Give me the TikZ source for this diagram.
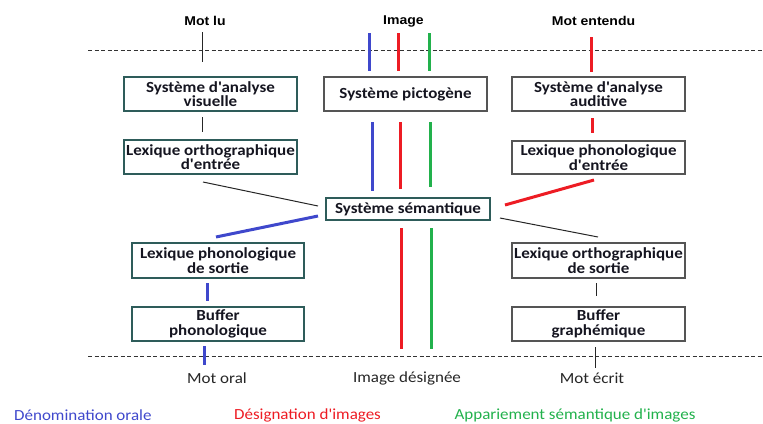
\documentclass[tikz,border=0pt]{standalone}
\usepackage{fontspec}
\setmainfont{Carlito}[FakeStretch=1.1, Ligatures=TeXOff]
\newfontfamily\toplab{Liberation Sans}[FakeStretch=1.1]
\definecolor{cblue}{HTML}{3F48CC}
\definecolor{cred}{HTML}{ED1C24}
\definecolor{cgreen}{HTML}{22B14C}
\definecolor{cteal}{HTML}{2E5C5A}
\definecolor{cgray}{HTML}{555555}
\definecolor{ctext}{HTML}{151520}
\tikzset{
  boxbase/.style={draw, line width=1.8bp, inner sep=0pt, align=center, text=ctext,
    font=\fontsize{15.5}{14.5}\selectfont\bfseries},
  tealbox/.style={boxbase, draw=cteal},
  graybox/.style={boxbase, draw=cgray},
  dashline/.style={draw=black!80, line width=1bp, dash pattern=on 4bp off 2.5bp},
  thinline/.style={draw=black!85, line width=1bp},
  blueline/.style={draw=cblue, line width=3bp},
  redline/.style={draw=cred, line width=3bp},
  greenline/.style={draw=cgreen, line width=3bp},
  toplabel/.style={font=\toplab\bfseries\fontsize{12.8}{14}\selectfont, inner sep=0pt},
  botlabel/.style={font=\fontsize{15.5}{16}\selectfont, inner sep=0pt, text=black!85},
  legend/.style={font=\fontsize{15.5}{16}\selectfont, inner sep=0pt}
}
\begin{document}
\begin{tikzpicture}[x=1bp,y=-1bp]
\useasboundingbox (0,0) rectangle (763,423);

% dashed lines
\coordinate (dtl) at (88,50.5); \coordinate (dtr) at (763,50.5);
\coordinate (dbl) at (88,356); \coordinate (dbr) at (763,356);
\draw[dashline] (dtl) -- (dtr);
\draw[dashline] (dbl) -- (dbr);

% top labels
\node[toplabel] (mlu) at (205,21) {Mot lu};
\node[toplabel] (img) at (403.5,21) {Image};
\node[toplabel] (ment) at (593.5,21) {Mot entendu};

% boxes
\node[tealbox, minimum width=173bp, minimum height=34bp] (vis) at (210.5,94) {Système d'analyse\\visuelle};
\node[graybox, minimum width=163bp, minimum height=34bp] (pic) at (405.5,94) {Système pictogène};
\node[graybox, minimum width=173bp, minimum height=34bp] (aud) at (598.5,94) {Système d'analyse\\auditive};
\node[tealbox, minimum width=173bp, minimum height=34bp] (loe) at (210.5,157) {Lexique orthographique\\d'entrée};
\node[graybox, minimum width=173bp, minimum height=33bp] (lpe) at (598.5,157.5) {Lexique phonologique\\d'entrée};
\node[tealbox, minimum width=164bp, minimum height=22bp] (sem) at (408,209) {Système sémantique};
\node[tealbox, minimum width=172bp, minimum height=35bp] (lps) at (218,260.5) {Lexique phonologique\\de sortie};
\node[tealbox, minimum width=172bp, minimum height=34bp] (bph) at (218,324) {Buffer\\phonologique};
\node[graybox, minimum width=173bp, minimum height=35bp] (los) at (598.5,260.5) {Lexique orthographique\\de sortie};
\node[graybox, minimum width=173bp, minimum height=34bp] (bgr) at (598.5,324) {Buffer\\graphémique};

% bottom labels
\node[botlabel] (moral) at (217,378) {Mot oral};
\node[botlabel] (imdes) at (407,378) {Image désignée};
\node[botlabel] (mecr) at (592,378) {Mot écrit};

% legend
\node[legend, text=cblue, anchor=west] (lg1) at (14,415) {Dénomination orale};
\node[legend, text=cred] (lg2) at (307.5,415) {Désignation d'images};
\node[legend, text=cgreen] (lg3) at (575,415) {Appariement sémantique d'images};

% connector end points
\coordinate (a1) at (202,32); \coordinate (a2) at (202,62);
\coordinate (b1) at (369,33); \coordinate (b2) at (369,71);
\coordinate (c1) at (398,33); \coordinate (c2) at (398,71);
\coordinate (d1) at (429,33); \coordinate (d2) at (429,71);
\coordinate (e1) at (591,37); \coordinate (e2) at (591,72);
\coordinate (f1) at (202,117); \coordinate (f2) at (202,132);
\coordinate (g1) at (372,122); \coordinate (g2) at (372,191);
\coordinate (h1) at (400,122); \coordinate (h2) at (400,189);
\coordinate (i1) at (430,122); \coordinate (i2) at (430,187);
\coordinate (j1) at (592,118); \coordinate (j2) at (592,133);
\coordinate (k1) at (203,182); \coordinate (k2) at (318,206);
\coordinate (l1) at (318,216); \coordinate (l2) at (216,237);
\coordinate (m1) at (594,180); \coordinate (m2) at (505,205);
\coordinate (n1) at (500,218); \coordinate (n2) at (598,237);
\coordinate (o1) at (401,228); \coordinate (o2) at (401,349);
\coordinate (p1) at (431,228); \coordinate (p2) at (431,349);
\coordinate (q1) at (207,283); \coordinate (q2) at (207,301);
\coordinate (r1) at (204,346); \coordinate (r2) at (204,365);
\coordinate (s1) at (596,283); \coordinate (s2) at (596,296);
\coordinate (t1) at (595,347); \coordinate (t2) at (595,368);

\draw[thinline] (a1) -- (a2);
\draw[blueline] (b1) -- (b2);
\draw[redline] (c1) -- (c2);
\draw[greenline] (d1) -- (d2);
\draw[redline] (e1) -- (e2);
\draw[thinline] (f1) -- (f2);
\draw[blueline] (g1) -- (g2);
\draw[redline] (h1) -- (h2);
\draw[greenline] (i1) -- (i2);
\draw[redline] (j1) -- (j2);
\draw[thinline] (k1) -- (k2);
\draw[blueline] (l1) -- (l2);
\draw[redline] (m1) -- (m2);
\draw[thinline] (n1) -- (n2);
\draw[redline] (o1) -- (o2);
\draw[greenline] (p1) -- (p2);
\draw[blueline] (q1) -- (q2);
\draw[blueline] (r1) -- (r2);
\draw[thinline] (s1) -- (s2);
\draw[thinline] (t1) -- (t2);
\end{tikzpicture}
\end{document}
